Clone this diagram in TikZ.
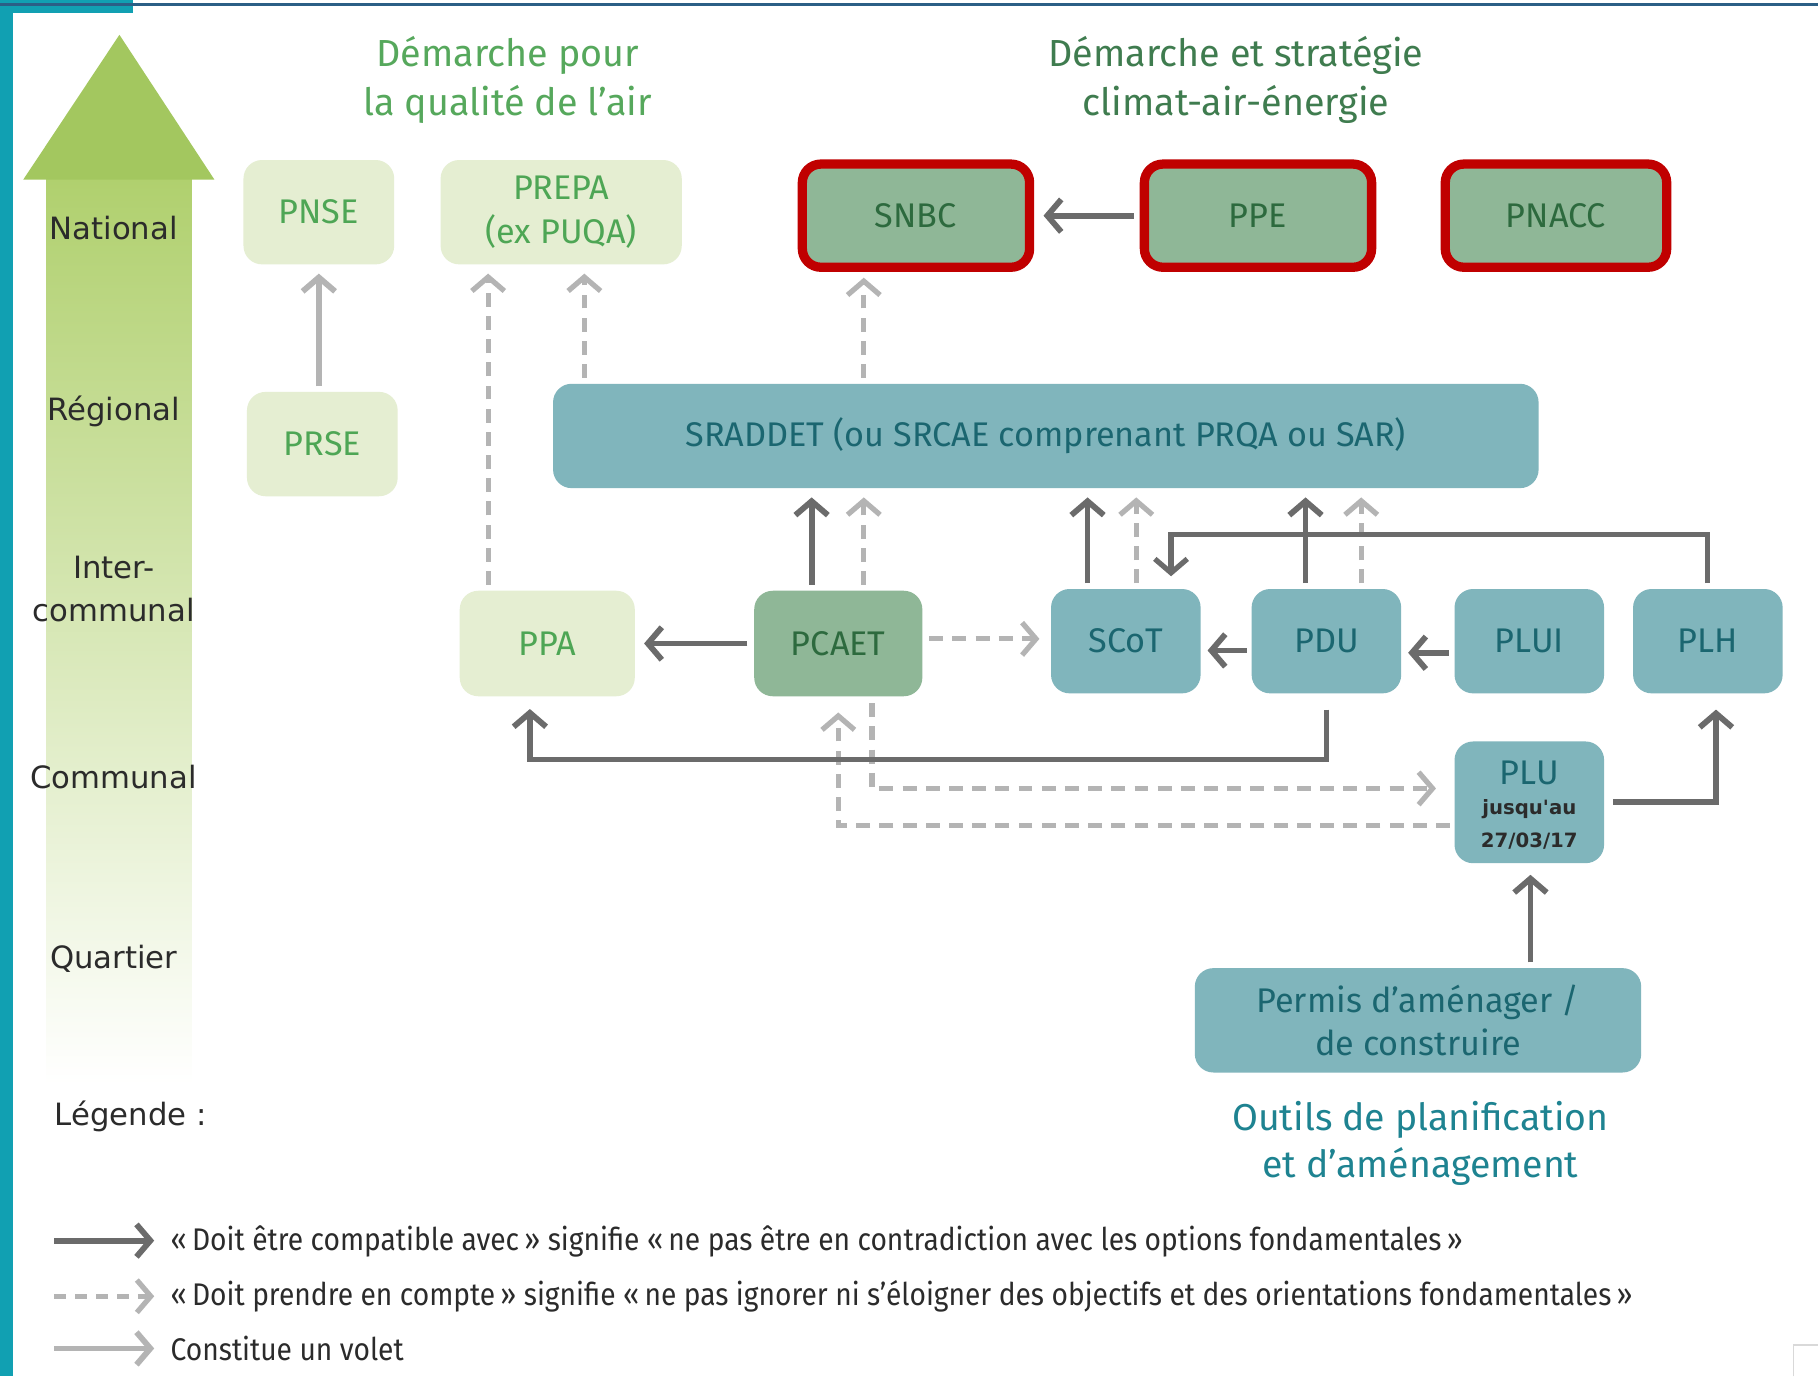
\documentclass[tikz,border=0pt]{standalone}
\usepackage{fontspec}
\setmainfont{Fira Sans}
\newfontfamily\lvlfont{DejaVu Sans}
\newfontfamily\condfont[FakeStretch=0.9]{Fira Sans}
\usetikzlibrary{arrows.meta,calc}
\definecolor{paleG}{HTML}{E5EED2}
\definecolor{paleGtxt}{HTML}{4EA655}
\definecolor{sage}{HTML}{8FB797}
\definecolor{sageTxt}{HTML}{2D6A3E}
\definecolor{tealF}{HTML}{80B5BC}
\definecolor{tealTxt}{HTML}{1B6670}
\definecolor{redB}{HTML}{C00000}
\definecolor{darkA}{HTML}{6B6B6B}
\definecolor{lightA}{HTML}{B4B4B4}
\definecolor{titleA}{HTML}{56A85C}
\definecolor{titleB}{HTML}{3F7C4F}
\definecolor{outilsC}{HTML}{1E8391}
\definecolor{headG}{HTML}{A3C75F}
\definecolor{shaftTop}{HTML}{B0D06E}
\definecolor{frameTeal}{HTML}{11A0B2}
\definecolor{frameBlue}{HTML}{2B5F86}
\definecolor{lvlTxt}{HTML}{2B2B2B}
\tikzset{
  boxbase/.style={rounded corners=16pt, inner sep=0pt, outer sep=0pt, align=center,
    font=\fontsize{29.5}{38}\selectfont},
  pale/.style={boxbase, fill=paleG, text=paleGtxt},
  sagebox/.style={boxbase, fill=sage, text=sageTxt},
  tealbox/.style={boxbase, fill=tealF, text=tealTxt},
  redbox/.style={boxbase, fill=sage, text=sageTxt, draw=redB, line width=8pt,
    outer sep=4pt, minimum width=196pt, minimum height=89pt},
  tip/.style={-{Straight Barb[length=12pt,width=28pt]}},
  darkarr/.style={draw=darkA, line width=5pt, tip, shorten <=5pt, shorten >=8pt},
  lightsolid/.style={draw=lightA, line width=5pt, tip, shorten <=5pt, shorten >=8pt},
  lightdash/.style={draw=lightA, line width=4.5pt, dash pattern=on 12pt off 8pt, tip,
    shorten <=5pt, shorten >=8pt},
  lvl/.style={font=\lvlfont\fontsize{26.5}{37}\selectfont, text=lvlTxt, align=center, inner sep=0pt},
  legtxt/.style={font=\condfont\fontsize{27}{30}\selectfont, text=lvlTxt, anchor=west, inner sep=0pt},
}
\begin{document}
\begin{tikzpicture}[x=1pt,y=-1pt]
\useasboundingbox (0,0) rectangle (1568,1187);
\fill[white] (0,0) rectangle (1568,1187);
% frame
\fill[frameTeal] (0,0) rectangle (11,1187);
\fill[frameTeal] (0,0) rectangle (115,11);
\draw[frameBlue, line width=2pt] (0,4) -- (1568,4);
\draw[gray!30, line width=1pt] (1547,1187) -- (1547,1160) -- (1568,1160);
% big level arrow
\shade[top color=shaftTop, bottom color=white] (40,154) rectangle (165,935);
\fill[headG] (103,30) -- (185,155) -- (20,155) -- cycle;
% level labels
\node[lvl] (lNat) at (98,197) {National};
\node[lvl] (lReg) at (98,355) {Régional};
\node[lvl] (lInt) at (98,508) {Inter-\\communal};
\node[lvl] (lCom) at (98,670) {Communal};
\node[lvl] (lQua) at (98,827) {Quartier};
\node[lvl, anchor=west] (lLeg) at (47,963) {Légende :};
% titles
\node[font=\fontsize{32.5}{42}\selectfont, text=titleA, align=center] (T1) at (438,69) {Démarche pour\\la qualité de l’air};
\node[font=\fontsize{32.5}{42}\selectfont, text=titleB, align=center] (T2) at (1066,69) {Démarche et stratégie\\climat-air-énergie};
\node[font=\fontsize{32.3}{41}\selectfont, text=outilsC, align=center] (T3) at (1225,986) {Outils de planification\\et d’aménagement};
% nodes
\node[pale, minimum width=130pt, minimum height=90pt] (PNSE) at (275,183) {PNSE};
\node[pale, minimum width=208pt, minimum height=90pt] (PREPA) at (484,183) {PREPA\\(ex PUQA)};
\node[redbox] (SNBC) at (790,186) {SNBC};
\node[redbox] (PPE) at (1085,186) {PPE};
\node[redbox, minimum width=191pt] (PNACC) at (1342,186) {PNACC};
\node[pale, minimum width=130pt, minimum height=90pt] (PRSE) at (278,383) {PRSE};
\node[tealbox, minimum width=850pt, minimum height=90pt] (SRADDET) at (902,376) {SRADDET (ou SRCAE comprenant PRQA ou SAR)};
\node[pale, minimum width=151pt, minimum height=91pt] (PPA) at (472,555) {PPA};
\node[sagebox, minimum width=145pt, minimum height=91pt] (PCAET) at (723,555) {PCAET};
\node[tealbox, minimum width=129pt, minimum height=90pt] (SCoT) at (971,553) {SCoT};
\node[tealbox, minimum width=129pt, minimum height=90pt] (PDU) at (1144,553) {PDU};
\node[tealbox, minimum width=129pt, minimum height=90pt] (PLUI) at (1319,553) {PLUI};
\node[tealbox, minimum width=129pt, minimum height=90pt] (PLH) at (1473,553) {PLH};
\node[tealbox, minimum width=129pt, minimum height=105pt] (PLU) at (1319,692) {};
\node[text=tealTxt, font=\fontsize{29.5}{30}\selectfont, inner sep=0pt] (PLUt) at ($(PLU.center)+(0,-25)$) {PLU};
\node[text=lvlTxt, font=\lvlfont\bfseries\fontsize{17}{18}\selectfont, inner sep=0pt] (PLUa) at ($(PLU.center)+(0,6)$) {jusqu'au};
\node[text=lvlTxt, font=\lvlfont\bfseries\fontsize{17}{18}\selectfont, inner sep=0pt] (PLUb) at ($(PLU.center)+(0,33)$) {27/03/17};
\node[tealbox, minimum width=385pt, minimum height=90pt, font=\fontsize{29.5}{37}\selectfont] (Permis) at (1223,880) {Permis d’aménager /\\de construire};
% dashed connectors
\draw[lightdash] ([xshift=-51pt]PPA.north) -- ([xshift=-51pt]PPA.north |- PREPA.south);
\draw[lightdash] ([xshift=20pt]PREPA.south |- SRADDET.north) -- ([xshift=20pt]PREPA.south);
\draw[lightdash, shorten >=5pt] ([xshift=-45pt]SNBC.south |- SRADDET.north) -- ([xshift=-45pt]SNBC.south);
\draw[lightdash] ([xshift=22pt]PCAET.north) -- ([xshift=22pt]PCAET.north |- SRADDET.south);
\draw[lightdash] ([xshift=9pt]SCoT.north) -- ([xshift=9pt]SCoT.north |- SRADDET.south);
\draw[lightdash] ([xshift=30pt]PDU.north) -- ([xshift=30pt]PDU.north |- SRADDET.south);
\draw[lightdash, shorten <=6pt, shorten >=10pt] ([yshift=4pt]PCAET.east) -- ([yshift=4pt]PCAET.east -| SCoT.west);
\draw[lightdash, shorten <=6pt, shorten >=16pt] ([xshift=29pt]PCAET.south) |- ([yshift=12pt]PLU.west);
\draw[lightdash, shorten <=4pt, shorten >=14pt] ([yshift=-20pt]PLU.west) -| (PCAET.south);
% solid connectors
\draw[lightsolid] ([xshift=-3pt]PRSE.north) -- ([xshift=-3pt]PRSE.north |- PNSE.south);
\draw[darkarr] (PPE.west) -- (SNBC.east);
\draw[darkarr] ([xshift=-23pt]PCAET.north) -- ([xshift=-23pt]PCAET.north |- SRADDET.south);
\draw[darkarr, shorten <=6pt] (PCAET.west) -- (PPA.east);
\draw[darkarr] ([xshift=-33pt]SCoT.north) -- ([xshift=-33pt]SCoT.north |- SRADDET.south);
\draw[darkarr] ([xshift=-18pt]PDU.north) -- ([xshift=-18pt]PDU.north |- SRADDET.south);
\draw[darkarr, shorten <=4pt, shorten >=6pt] ([yshift=-8pt]PDU.west) -- ([yshift=-8pt]PDU.west -| SCoT.east);
\draw[darkarr, shorten <=5pt, shorten >=6pt] ([yshift=-10pt]PLUI.west) -- ([yshift=-10pt]PLUI.west -| PDU.east);
\draw[darkarr, line width=4.5pt, shorten >=11pt] (PLH.north) |- ([xshift=39pt,yshift=47pt]SCoT.north) -- ([xshift=39pt]SCoT.north);
\draw[darkarr, shorten <=14pt, shorten >=11pt] (PDU.south) -- ([yshift=-57pt]PDU.south) -| ([xshift=-15pt]PPA.south);
\draw[darkarr, shorten <=8pt, shorten >=14pt] (PLU.east) -| ([xshift=7pt]PLH.south);
\draw[darkarr, shorten >=10pt] ([xshift=97pt]Permis.north) -- ([xshift=97pt]Permis.north |- PLU.south);
% legend
\coordinate (L1s) at (47,1070); \coordinate (L1e) at (133,1070);
\coordinate (L2s) at (47,1118); \coordinate (L2e) at (133,1118);
\coordinate (L3s) at (47,1163); \coordinate (L3e) at (133,1163);
\draw[darkarr, shorten <=0pt, shorten >=0pt] (L1s) -- (L1e);
\draw[lightdash, dash pattern=on 10pt off 8pt, shorten <=0pt, shorten >=0pt] (L2s) -- (L2e);
\draw[lightsolid, shorten <=0pt, shorten >=0pt] (L3s) -- (L3e);
\node[legtxt] (Lt1) at (147,1071) {«\,Doit être compatible avec\,» signifie «\,ne pas être en contradiction avec les options fondamentales\,»};
\node[legtxt] (Lt2) at (147,1118) {«\,Doit prendre en compte\,» signifie «\,ne pas ignorer ni s’éloigner des objectifs et des orientations fondamentales\,»};
\node[legtxt] (Lt3) at (147,1163) {Constitue un volet};
\end{tikzpicture}
\end{document}
